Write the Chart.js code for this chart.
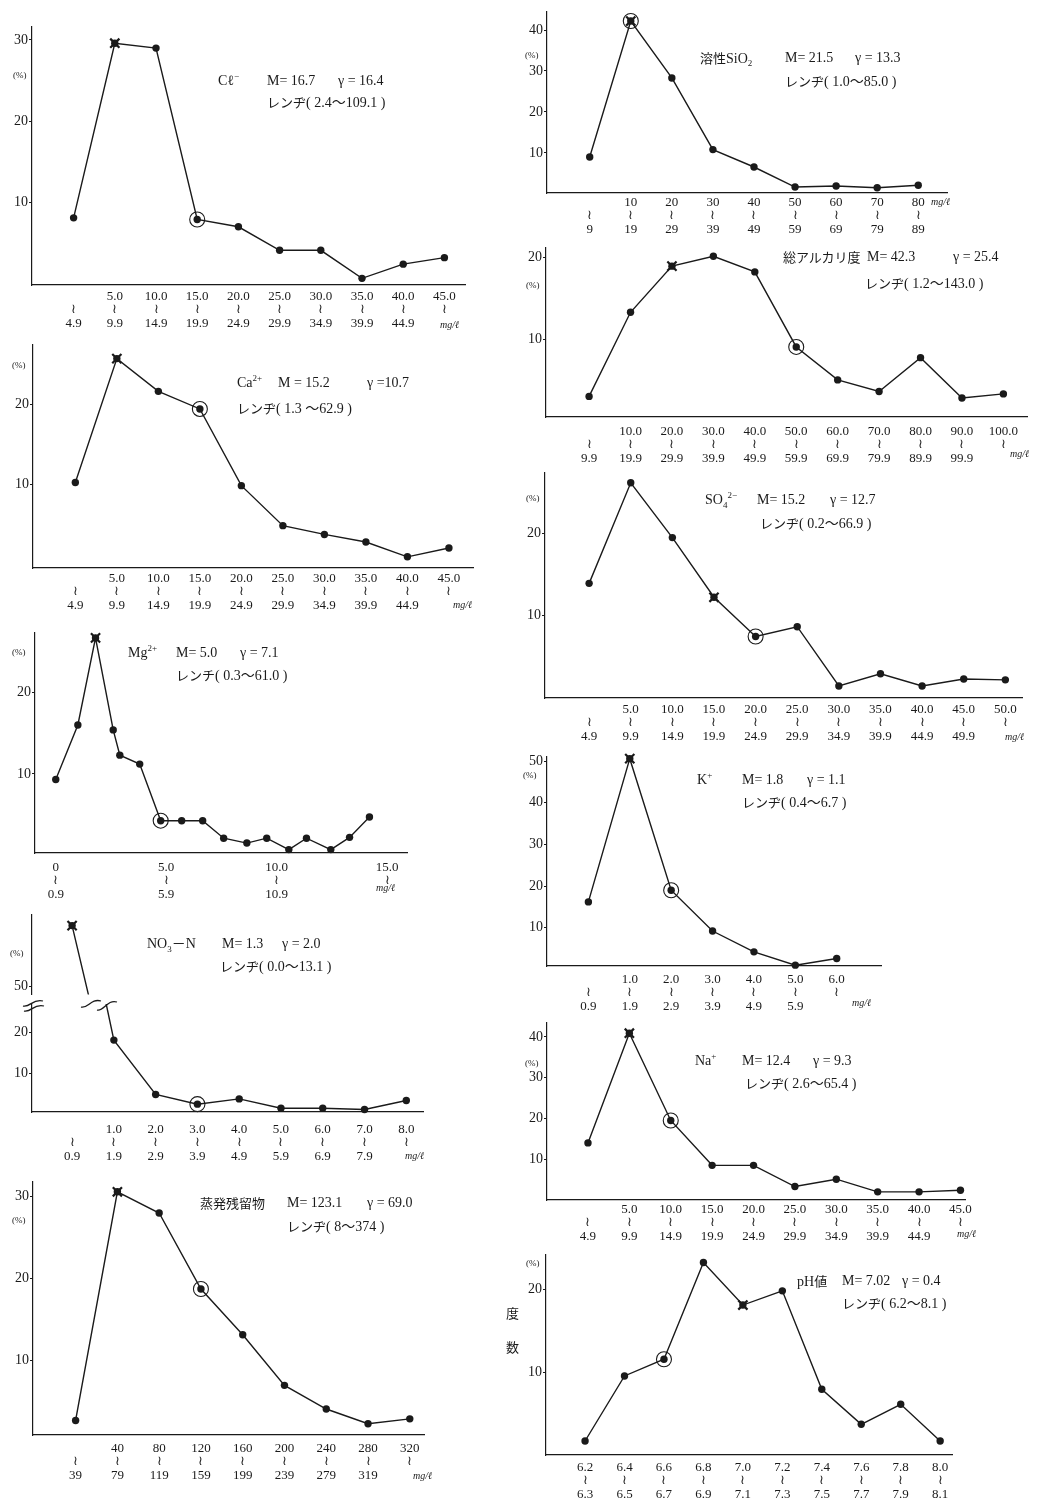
<!DOCTYPE html>
<html>
<head>
<meta charset="utf-8">
<script src="https://cdn.jsdelivr.net/npm/chart.js@4.4.1/dist/chart.umd.min.js"></script>
<style>
  body { margin: 0; background: #fff; width: 1040px; height: 1507px; position: relative; overflow: hidden;
         font-family: "Liberation Serif", "DejaVu Serif", "Noto Sans CJK JP", serif; color: #1a1a1a; }
  canvas { position: absolute; }
  .t { position: absolute; white-space: pre; font-size: 14px; line-height: 16px; transform: translateY(-50%); }
  .pc { font-size: 9px; }
  .u { font-size: 10px; font-style: italic; }
  .jp { font-family: "Noto Sans CJK JP", sans-serif; font-size: 13px; }
  sup, sub { font-size: 9px; line-height: 0; }
  svg { position: absolute; overflow: visible; left: 0; top: 0; }
</style>
</head>
<body>
<script>
// --- data (percent of samples per concentration class) ---
const clFrom = ['', '5.0', '10.0', '15.0', '20.0', '25.0', '30.0', '35.0', '40.0', '45.0'];
const clTo = ['4.9', '9.9', '14.9', '19.9', '24.9', '29.9', '34.9', '39.9', '44.9', ''];
const clValues = [8.1, 29.6, 29.0, 7.9, 7.0, 4.1, 4.1, 0.65, 2.4, 3.2];

const caFrom = ['', '5.0', '10.0', '15.0', '20.0', '25.0', '30.0', '35.0', '40.0', '45.0'];
const caTo = ['4.9', '9.9', '14.9', '19.9', '24.9', '29.9', '34.9', '39.9', '44.9', ''];
const caValues = [10.2, 25.7, 21.6, 19.4, 9.8, 4.8, 3.7, 2.75, 0.9, 2.0];

const mgFrom = ['0', '5.0', '10.0', '15.0'];
const mgTo = ['0.9', '5.9', '10.9', ''];
const mgTickAt = [0, 5, 10, 15];
const mgX = [0, 1.0, 1.8, 2.6, 2.9, 3.8, 4.75, 5.7, 6.65, 7.6, 8.65, 9.55, 10.55, 11.35, 12.45, 13.3, 14.2];
const mgValues = [9.3, 16.0, 26.7, 15.4, 12.3, 11.2, 4.25, 4.25, 4.25, 2.1, 1.5, 2.1, 0.7, 2.1, 0.7, 2.2, 4.7];

const no3From = ['', '1.0', '2.0', '3.0', '4.0', '5.0', '6.0', '7.0', '8.0'];
const no3To = ['0.9', '1.9', '2.9', '3.9', '4.9', '5.9', '6.9', '7.9', ''];
const no3Values = [66.6, 18.2, 4.8, 2.4, 3.7, 1.4, 1.4, 1.1, 3.3];

const resFrom = ['', '40', '80', '120', '160', '200', '240', '280', '320'];
const resTo = ['39', '79', '119', '159', '199', '239', '279', '319', ''];
const resValues = [2.6, 30.6, 28.0, 18.7, 13.1, 6.9, 4.0, 2.2, 2.8];

const siFrom = ['', '10', '20', '30', '40', '50', '60', '70', '80'];
const siTo = ['9', '19', '29', '39', '49', '59', '69', '79', '89'];
const siValues = [9.0, 42.2, 28.3, 10.8, 6.55, 1.66, 1.9, 1.5, 2.1];

const alkFrom = ['', '10.0', '20.0', '30.0', '40.0', '50.0', '60.0', '70.0', '80.0', '90.0', '100.0'];
const alkTo = ['9.9', '19.9', '29.9', '39.9', '49.9', '59.9', '69.9', '79.9', '89.9', '99.9', ''];
const alkValues = [3.1, 13.3, 18.9, 20.1, 18.2, 9.1, 5.1, 3.7, 7.8, 2.9, 3.4];

const so4From = ['', '5.0', '10.0', '15.0', '20.0', '25.0', '30.0', '35.0', '40.0', '45.0', '50.0'];
const so4To = ['4.9', '9.9', '14.9', '19.9', '24.9', '29.9', '34.9', '39.9', '44.9', '49.9', ''];
const so4Values = [13.9, 26.2, 19.5, 12.2, 7.4, 8.6, 1.35, 2.85, 1.35, 2.2, 2.1];

const kFrom = ['', '1.0', '2.0', '3.0', '4.0', '5.0', '6.0'];
const kTo = ['0.9', '1.9', '2.9', '3.9', '4.9', '5.9', ''];
const kValues = [16.2, 50.6, 19.0, 9.2, 4.2, 1.0, 2.6];

const naFrom = ['', '5.0', '10.0', '15.0', '20.0', '25.0', '30.0', '35.0', '40.0', '45.0'];
const naTo = ['4.9', '9.9', '14.9', '19.9', '24.9', '29.9', '34.9', '39.9', '44.9', ''];
const naValues = [14.0, 40.9, 19.5, 8.5, 8.5, 3.3, 5.1, 2.0, 2.0, 2.4];

const phFrom = ['6.2', '6.4', '6.6', '6.8', '7.0', '7.2', '7.4', '7.6', '7.8', '8.0'];
const phTo = ['6.3', '6.5', '6.7', '6.9', '7.1', '7.3', '7.5', '7.7', '7.9', '8.1'];
const phValues = [1.8, 9.6, 11.6, 23.2, 18.1, 19.8, 8.0, 3.8, 6.2, 1.8];

const INK = '#1a1a1a';
const SERIF = '"Liberation Serif", "DejaVu Serif", "Noto Sans CJK JP", serif';

function text(x, y, html, cls) {
    const d = document.createElement('div');
    d.className = 't' + (cls ? ' ' + cls : '');
    d.style.left = x + 'px';
    d.style.top = y + 'px';
    d.innerHTML = html;
    document.body.appendChild(d);
}

// one small line chart; box = [axis x, axis top, axis right, axis bottom] in page px
function drawPanel(p) {
    const padL = 36, padR = 14, padT = 12;
    const padB = p.hideX ? 0 : 56;
    const [ax, top, right, bottom] = p.box;
    const cv = document.createElement('canvas');
    cv.width = Math.round(right - ax + padL + padR);
    cv.height = Math.round(bottom - top + padT + padB);
    cv.style.left = (ax - padL) + 'px';
    cv.style.top = (top - padT) + 'px';
    document.body.appendChild(cv);

    const pts = p.values.map((v, i) => ({ x: p.xs ? p.xs[i] : i, y: v }));
    const xTicks = p.xTicks || p.values.map((v, i) => i);
    const clip = p.clip === undefined ? false : p.clip;

    new Chart(cv, {
        type: 'line',
        data: {
            datasets: [
                { data: pts, borderColor: INK, borderWidth: 1.4, pointRadius: 3.7,
                  pointBackgroundColor: INK, pointBorderWidth: 0, clip: clip },
                { data: p.ring == null ? [] : [pts[p.ring]], showLine: false, pointRadius: 7.5,
                  pointBorderColor: INK, pointBorderWidth: 1.1, pointBackgroundColor: 'rgba(0,0,0,0)', clip: clip },
                { data: p.star == null ? [] : [pts[p.star]], showLine: false, pointStyle: 'crossRot',
                  pointRadius: 6.5, pointBorderColor: INK, pointBorderWidth: 2.2, clip: clip }
            ]
        },
        options: {
            responsive: false,
            animation: false,
            events: [],
            layout: { padding: { left: 0, top: padT, right: padR, bottom: 0 } },
            plugins: { legend: { display: false }, tooltip: { enabled: false } },
            scales: {
                x: {
                    type: 'linear',
                    display: !p.hideX,
                    min: p.xMin, max: p.xMax,
                    afterBuildTicks: s => { s.ticks = xTicks.map(v => ({ value: v })); },
                    afterFit: s => { s.height = padB; },
                    grid: { display: false, drawTicks: false },
                    border: { color: INK, width: 1.2 },
                    ticks: {
                        autoSkip: false, maxRotation: 0, padding: p.labPad, color: INK,
                        font: { family: SERIF, size: 13, lineHeight: 1.02 },
                        callback: (v, i) => [p.from[i], '≀', p.to[i]]
                    }
                },
                y: {
                    min: p.yMin, max: p.yMax,
                    afterBuildTicks: s => { s.ticks = p.yTicks.map(v => ({ value: v })); },
                    afterFit: s => { s.width = padL; },
                    grid: { drawOnChartArea: false, tickLength: 3, color: INK, lineWidth: 1 },
                    border: { color: INK, width: 1.2 },
                    ticks: { padding: 1, color: INK, font: { family: SERIF, size: 14 }, callback: v => String(v) }
                }
            }
        }
    });
}

// wavy "axis break" strokes, each [x0, y0, x1, y1] in page px
function breakMarks(strokes) {
    const ns = 'http://www.w3.org/2000/svg';
    const svg = document.createElementNS(ns, 'svg');
    svg.setAttribute('width', 1);
    svg.setAttribute('height', 1);
    strokes.forEach(([x0, y0, x1, y1]) => {
        const w = x1 - x0;
        const path = document.createElementNS(ns, 'path');
        path.setAttribute('d', `M${x0} ${y0} C ${x0 + w * 0.35} ${y0 + 2}, ${x0 + w * 0.5} ${y1 - 3}, ${x1} ${y1}`);
        path.setAttribute('fill', 'none');
        path.setAttribute('stroke', INK);
        path.setAttribute('stroke-width', '1.3');
        svg.appendChild(path);
    });
    document.body.appendChild(svg);
}

// ---------- left column ----------
drawPanel({ box: [32, 27, 465, 285], xMin: -1.01, xMax: 9.5, yMin: -0.17, yMax: 31.6, yTicks: [10, 20, 30],
    values: clValues, from: clFrom, to: clTo, star: 1, ring: 3, labPad: 5 });
text(13, 75, '(%)', 'pc');
text(218, 81, 'Cℓ<sup>−</sup>');
text(267, 81, 'M= 16.7');
text(338, 81, 'γ = 16.4');
text(267, 102, '<span class="jp">レンヂ</span>( 2.4〜109.1 )');
text(440, 325, 'mg/ℓ', 'u');

drawPanel({ box: [32.5, 345, 472.7, 568.3], xMin: -1.02, xMax: 9.58, yMin: -0.5, yMax: 27.4, yTicks: [10, 20],
    values: caValues, from: caFrom, to: caTo, star: 1, ring: 3, labPad: 4 });
text(12, 365, '(%)', 'pc');
text(237, 383, 'Ca<sup>2+</sup>');
text(278, 383, 'M = 15.2');
text(367, 383, 'γ =10.7');
text(237, 408, '<span class="jp">レンヂ</span>( 1.3 〜62.9 )');
text(453, 605, 'mg/ℓ', 'u');

drawPanel({ box: [35, 633, 407, 853], xMin: -0.94, xMax: 15.9, yMin: 0.28, yMax: 27.3, yTicks: [10, 20],
    xs: mgX, xTicks: mgTickAt, values: mgValues, from: mgFrom, to: mgTo, star: 2, ring: 6, labPad: 8 });
text(12, 652, '(%)', 'pc');
text(128, 653, 'Mg<sup>2+</sup>');
text(176, 653, 'M= 5.0');
text(240, 653, 'γ = 7.1');
text(176, 675, '<span class="jp">レンチ</span>( 0.3〜61.0 )');
text(376, 888, 'mg/ℓ', 'u');

// NO3-N: broken axis, drawn as an upper and a lower chart
drawPanel({ box: [32, 915, 423, 1004], hideX: true, xMin: -0.96, xMax: 8.4, yMin: 47.7, yMax: 69.5, yTicks: [50],
    values: no3Values, from: no3From, to: no3To, star: 0, ring: 3,
    clip: { left: 12, right: 12, top: 12, bottom: 0 } });
drawPanel({ box: [32, 1004, 423, 1112], xMin: -0.96, xMax: 8.4, yMin: 0.47, yMax: 27.1, yTicks: [10, 20],
    values: no3Values, from: no3From, to: no3To, star: 0, ring: 3, labPad: 11,
    clip: { left: 12, right: 12, top: 0, bottom: 12 } });
breakMarks([[23, 1006, 43, 1001], [24, 1011, 44, 1006], [81, 1007, 101, 1001], [97, 1010, 117, 1002]]);
text(10, 953, '(%)', 'pc');
text(147, 944, 'NO<sub>3</sub>－N');
text(222, 944, 'M= 1.3');
text(282, 944, 'γ = 2.0');
text(220, 966, '<span class="jp">レンヂ</span>( 0.0〜13.1 )');
text(405, 1156, 'mg/ℓ', 'u');

drawPanel({ box: [33.3, 1181.7, 424, 1435], xMin: -1.02, xMax: 8.34, yMin: 0.82, yMax: 31.8, yTicks: [10, 20, 30],
    values: resValues, from: resFrom, to: resTo, star: 1, ring: 3, labPad: 7 });
text(12, 1220, '(%)', 'pc');
text(200, 1203, '<span class="jp">蒸発残留物</span>');
text(287, 1203, 'M= 123.1');
text(367, 1203, 'γ = 69.0');
text(287, 1226, '<span class="jp">レンヂ</span>( 8〜374 )');
text(413, 1476, 'mg/ℓ', 'u');

// ---------- right column ----------
drawPanel({ box: [546.7, 12, 946.7, 192.7], xMin: -1.04, xMax: 8.7, yMin: 0.2, yMax: 44.4, yTicks: [10, 20, 30, 40],
    values: siValues, from: siFrom, to: siTo, star: 1, ring: 1, labPad: 3 });
text(525, 55, '(%)', 'pc');
text(700, 58, '<span class="jp">溶性</span>SiO<sub>2</sub>');
text(785, 58, 'M= 21.5');
text(855, 58, 'γ = 13.3');
text(785, 81, '<span class="jp">レンヂ</span>( 1.0〜85.0 )');
text(931, 202, 'mg/ℓ', 'u');

drawPanel({ box: [546, 248, 1026.7, 417], xMin: -1.04, xMax: 10.57, yMin: 0.6, yMax: 21.1, yTicks: [10, 20],
    values: alkValues, from: alkFrom, to: alkTo, star: 2, ring: 5, labPad: 8 });
text(526, 285, '(%)', 'pc');
text(783, 257, '<span class="jp">総アルカリ度</span>');
text(867, 257, 'M= 42.3');
text(953, 257, 'γ = 25.4');
text(865, 283, '<span class="jp">レンヂ</span>( 1.2〜143.0 )');
text(1010, 454, 'mg/ℓ', 'u');

drawPanel({ box: [545, 473, 1021.7, 697.7], xMin: -1.06, xMax: 10.4, yMin: -0.12, yMax: 27.4, yTicks: [10, 20],
    values: so4Values, from: so4From, to: so4To, star: 3, ring: 4, labPad: 5 });
text(526, 498, '(%)', 'pc');
text(705, 500, 'SO<sub>4</sub><sup>2−</sup>');
text(757, 500, 'M= 15.2');
text(830, 500, 'γ = 12.7');
text(760, 523, '<span class="jp">レンヂ</span>( 0.2〜66.9 )');
text(1005, 737, 'mg/ℓ', 'u');

drawPanel({ box: [547.3, 756.7, 881.7, 966], xMin: -1.0, xMax: 7.07, yMin: 0.8, yMax: 51, yTicks: [10, 20, 30, 40, 50],
    values: kValues, from: kFrom, to: kTo, star: 1, ring: 2, labPad: 7 });
text(523, 775, '(%)', 'pc');
text(697, 780, 'K<sup>+</sup>');
text(742, 780, 'M= 1.8');
text(807, 780, 'γ = 1.1');
text(742, 802, '<span class="jp">レンヂ</span>( 0.4〜6.7 )');
text(852, 1003, 'mg/ℓ', 'u');

drawPanel({ box: [546.7, 1023.3, 965, 1200.7], xMin: -0.99, xMax: 9.11, yMin: 0, yMax: 43.4, yTicks: [10, 20, 30, 40],
    values: naValues, from: naFrom, to: naTo, star: 1, ring: 2, labPad: 3 });
text(525, 1063, '(%)', 'pc');
text(695, 1061, 'Na<sup>+</sup>');
text(742, 1061, 'M= 12.4');
text(813, 1061, 'γ = 9.3');
text(745, 1083, '<span class="jp">レンヂ</span>( 2.6〜65.4 )');
text(957, 1234, 'mg/ℓ', 'u');

drawPanel({ box: [546, 1255, 951.7, 1455], xMin: -0.99, xMax: 9.3, yMin: 0.12, yMax: 24.1, yTicks: [10, 20],
    values: phValues, from: phFrom, to: phTo, star: 4, ring: 2, labPad: 6 });
text(526, 1263, '(%)', 'pc');
text(506, 1313, '<span class="jp">度</span>');
text(506, 1347, '<span class="jp">数</span>');
text(797, 1281, 'pH<span class="jp">値</span>');
text(842, 1281, 'M= 7.02');
text(902, 1281, 'γ = 0.4');
text(842, 1303, '<span class="jp">レンヂ</span>( 6.2〜8.1 )');
</script>
</body>
</html>
